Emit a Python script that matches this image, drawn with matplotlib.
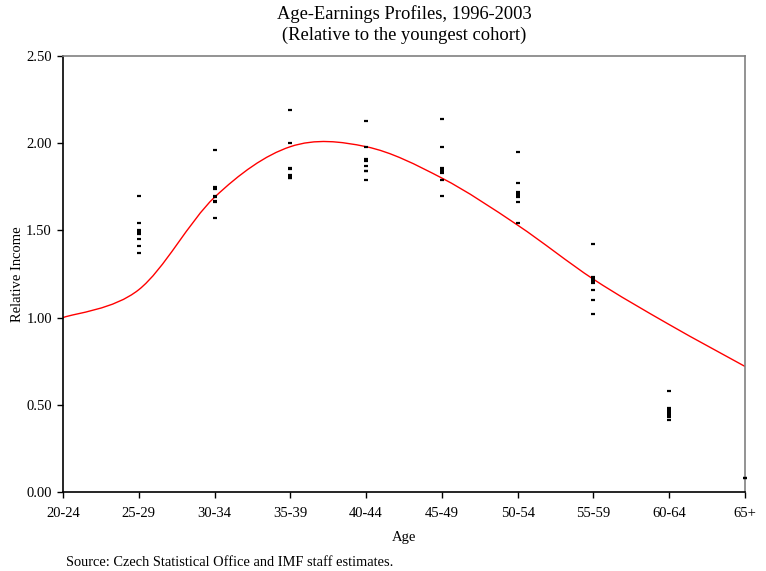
import numpy as np
import matplotlib
matplotlib.use("Agg")
import matplotlib.pyplot as plt
from matplotlib.path import Path
from matplotlib.patches import PathPatch

plt.rcParams['font.family'] = ['Liberation Serif', 'DejaVu Serif']

# Categories d'age
ages = ['20-24', '25-29', '30-34', '35-39', '40-44', '45-49', '50-54', '55-59', '60-64', '65+']

# Observations annuelles (1996-2003) par cohorte
obs_25_29 = [1.70, 1.54, 1.50, 1.49, 1.48, 1.45, 1.41, 1.37]
obs_30_34 = [1.96, 1.75, 1.74, 1.70, 1.69, 1.67, 1.66, 1.57]
obs_35_39 = [2.19, 2.00, 1.86, 1.85, 1.82, 1.81, 1.80, 1.80]
obs_40_44 = [2.13, 1.98, 1.91, 1.90, 1.87, 1.84, 1.84, 1.79]
obs_45_49 = [2.14, 1.98, 1.86, 1.85, 1.84, 1.83, 1.79, 1.70]
obs_50_54 = [1.95, 1.77, 1.72, 1.71, 1.70, 1.69, 1.66, 1.54]
obs_55_59 = [1.42, 1.23, 1.22, 1.21, 1.20, 1.16, 1.10, 1.02]
obs_60_64 = [0.58, 0.48, 0.47, 0.46, 0.45, 0.44, 0.43, 0.41]
obs_65 = [0.08, 0.08]

# Profil moyen (courbe lissee)
profil = [1.00, 1.16, 1.69, 1.98, 1.98, 1.80, 1.53, 1.22, 0.96, 0.72]

fig = plt.figure(figsize=(7.66, 5.71), dpi=100)
ax = fig.add_axes([63 / 766, 1 - 492 / 571, (745 - 63) / 766, (492 - 56) / 571])

groupes = [obs_25_29, obs_30_34, obs_35_39, obs_40_44, obs_45_49,
           obs_50_54, obs_55_59, obs_60_64, obs_65]
for i, g in enumerate(groupes, start=1):
    ax.plot([i] * len(g), g, linestyle='none', marker='_', ms=3, mew=1.6,
            color='black', clip_on=False, zorder=3)

# Courbe lissee (Bezier a la maniere d'Excel)
x = np.arange(len(profil), dtype=float)
y = np.array(profil)
verts = [(x[0], y[0])]
codes = [Path.MOVETO]
for i in range(len(x) - 1):
    x0, y0 = x[max(i - 1, 0)], y[max(i - 1, 0)]
    x3, y3 = x[min(i + 2, len(x) - 1)], y[min(i + 2, len(x) - 1)]
    c1 = (x[i] + (x[i + 1] - x0) / 6, y[i] + (y[i + 1] - y0) / 6)
    c2 = (x[i + 1] - (x3 - x[i]) / 6, y[i + 1] - (y3 - y[i]) / 6)
    verts += [c1, c2, (x[i + 1], y[i + 1])]
    codes += [Path.CURVE4] * 3
ax.add_patch(PathPatch(Path(verts, codes), facecolor='none', edgecolor='red',
                       lw=1.0, zorder=2))

ax.set_xlim(0, 9)
ax.set_ylim(0, 2.5)
ax.set_xticks(range(len(ages)))
ax.set_xticklabels(ages, fontsize=10.5)
ax.set_yticks(np.arange(0, 2.51, 0.5))
ax.set_yticklabels([f'{v:.2f}' for v in np.arange(0, 2.51, 0.5)], fontsize=10.5)
ax.tick_params(axis='y', direction='out', length=4, width=1, pad=4)
ax.tick_params(axis='x', direction='out', length=4, width=1, pad=7)

for s in ['top', 'right']:
    ax.spines[s].set_color('#808080')
    ax.spines[s].set_linewidth(1.2)
for s in ['left', 'bottom']:
    ax.spines[s].set_linewidth(1.2)

ax.set_xlabel('Age', fontsize=10.5, labelpad=8)
fig.text(18 / 766, 1 - 274 / 571, 'Relative Income', rotation=90,
         ha='center', va='center', fontsize=10.5)

fig.text(404 / 766, 1 - 14 / 571, 'Age-Earnings Profiles, 1996-2003',
         ha='center', va='center', fontsize=13.3)
fig.text(404 / 766, 1 - 35 / 571, '(Relative to the youngest cohort)',
         ha='center', va='center', fontsize=13.3)
fig.text(66 / 766, 1 - 562 / 571, 'Source: Czech Statistical Office and IMF staff estimates.',
         ha='left', va='center', fontsize=10.4)

plt.savefig('out.png', dpi=100)
